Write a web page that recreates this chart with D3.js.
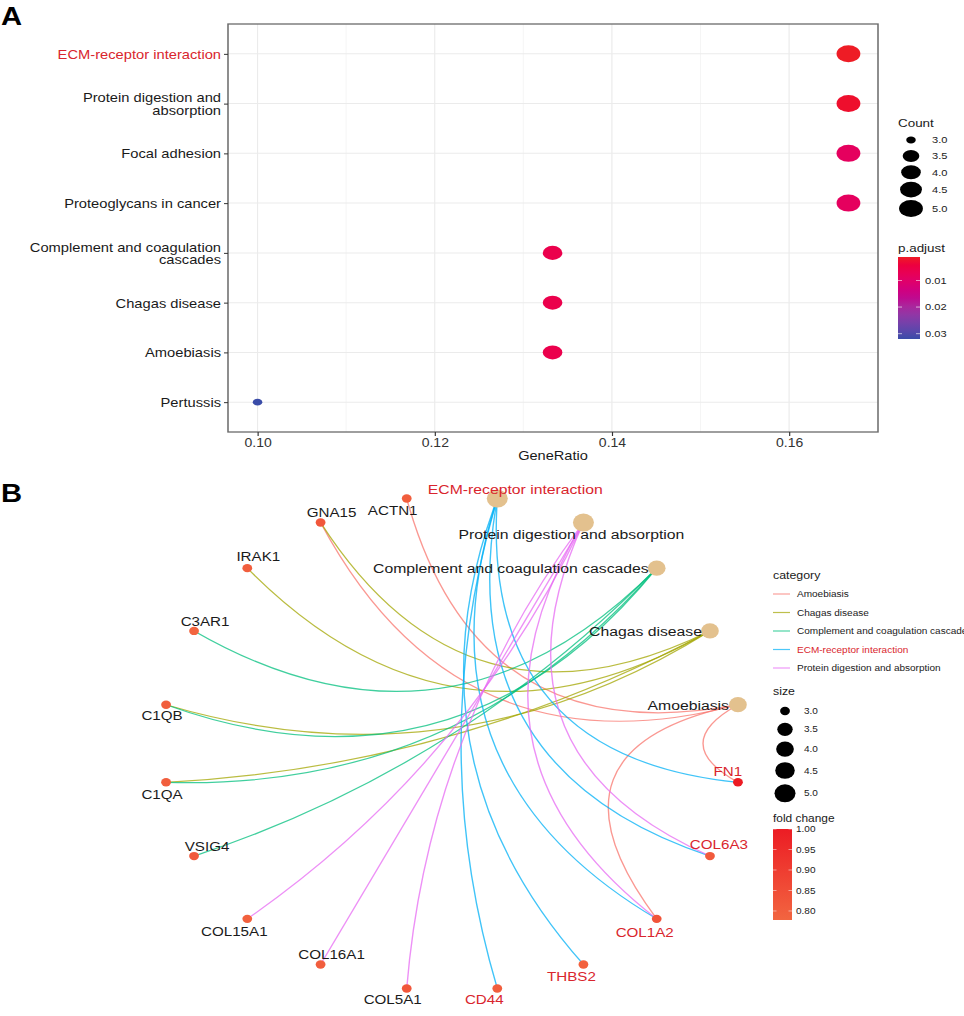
<!DOCTYPE html>
<html>
<head>
<meta charset="utf-8">
<script src="https://cdn.jsdelivr.net/npm/d3@7"></script>
<style>
  body { margin: 0; background: #fff; }
  svg { display: block; font-family: "Liberation Sans", Arial, Helvetica, sans-serif; }
</style>
</head>
<body>
<svg></svg>
<script>
const width = 964;
const height = 1016;
// the whole figure is stretched sideways, so draw in narrow units and scale x
const SX = 1.167;
const X = px => px / SX;

// ---- panel A: enrichment dot plot ----
const pathways = [
    "ECM-receptor interaction",
    "Protein digestion and absorption",
    "Focal adhesion",
    "Proteoglycans in cancer",
    "Complement and coagulation cascades",
    "Chagas disease",
    "Amoebiasis",
    "Pertussis"
];
const geneRatio = [0.1667, 0.1667, 0.1667, 0.1667, 0.1333, 0.1333, 0.1333, 0.1000];
const counts = [5, 5, 5, 5, 4, 4, 4, 3];
const pAdjust = [0.0012, 0.0020, 0.0085, 0.0085, 0.0060, 0.0060, 0.0060, 0.0320];
const ratioTicks = [0.10, 0.12, 0.14, 0.16];
const countKeys = [3.0, 3.5, 4.0, 4.5, 5.0];
const pTicks = [0.01, 0.02, 0.03];

// ---- panel B: gene-concept network ----
const categories = [
    "Amoebiasis",
    "Chagas disease",
    "Complement and coagulation cascades",
    "ECM-receptor interaction",
    "Protein digestion and absorption"
];
const categoryColors = ["#F8766D", "#A3A500", "#00BF7D", "#00B0F6", "#E76BF3"];
const categoryGenes = [
    ["ACTN1", "GNA15", "COL1A2", "FN1"],
    ["GNA15", "IRAK1", "C1QB", "C1QA"],
    ["C3AR1", "C1QB", "C1QA", "VSIG4"],
    ["CD44", "THBS2", "COL1A2", "COL6A3", "FN1"],
    ["COL15A1", "COL16A1", "COL5A1", "COL1A2", "COL6A3"]
];
const genes = ["ACTN1", "GNA15", "IRAK1", "C3AR1", "C1QB", "C1QA", "VSIG4", "COL15A1",
               "COL16A1", "COL5A1", "CD44", "THBS2", "COL1A2", "COL6A3", "FN1"];
const foldChange = [0.80, 0.82, 0.80, 0.778, 0.80, 0.80, 0.81, 0.79,
                    0.80, 0.82, 0.80, 0.79, 0.83, 0.81, 1.00];
// order of the nodes round the ring, clockwise from the top
const ringOrder = [
    "ECM-receptor interaction", "Protein digestion and absorption",
    "Complement and coagulation cascades", "Chagas disease", "Amoebiasis",
    "FN1", "COL6A3", "COL1A2", "THBS2", "CD44", "COL5A1", "COL16A1", "COL15A1",
    "VSIG4", "C1QA", "C1QB", "C3AR1", "IRAK1", "GNA15", "ACTN1"
];
const sizeKeys = [3.0, 3.5, 4.0, 4.5, 5.0];
const fcTicks = [0.80, 0.85, 0.90, 0.95, 1.00];

const highlight = "ECM-receptor interaction";
const red = "#d9252d";
const textCol = "#1a1a1a";

let svg = d3.select("svg")
     .attr("width", width)
     .attr("height", height);

let root = svg.append("g").attr("transform", `scale(${SX},1)`);

function wrapLabel(s, maxLen) {
    let lines = [];
    let cur = "";
    for (let w of s.split(" ")) {
        if (cur && (cur + " " + w).length > maxLen) {
            lines.push(cur);
            cur = w;
        } else {
            cur = cur ? cur + " " + w : w;
        }
    }
    lines.push(cur);
    return lines;
}

function drawDotPlot() {
    const left = 228, right = 878, top = 24, bottom = 432;

    root.append("text")
        .attr("x", X(1)).attr("y", 25)
        .attr("font-size", 25).attr("font-weight", "bold")
        .text("A");

    // ggplot style 5% expansion of the data range
    const ext = d3.extent(geneRatio);
    const pad = (ext[1] - ext[0]) * 0.05;
    const scX = d3.scaleLinear()
        .domain([ext[0] - pad, ext[1] + pad])
        .range([X(left), X(right)]);
    const scY = d3.scalePoint()
        .domain(pathways)
        .range([top, bottom])
        .padding(0.6);

    const sizeR = d3.scaleSqrt().domain([0, 2]).range([3.4, 8.5]);
    const ry = c => sizeR(c - 3);
    const pColor = d3.scaleLinear()
        .domain(d3.extent(pAdjust))
        .range(["#ee1c25", "#3a4ca8"])
        .interpolate(d3.interpolateHcl);

    // grid
    const minor = ratioTicks.slice(0, -1).map((t, i) => (t + ratioTicks[i + 1]) / 2);
    const grid = root.append("g");
    grid.selectAll(".minor").data(minor).enter().append("line")
        .attr("x1", d => scX(d)).attr("x2", d => scX(d))
        .attr("y1", top).attr("y2", bottom)
        .attr("stroke", "#f3f3f3").attr("stroke-width", 0.8);
    grid.selectAll(".major").data(ratioTicks).enter().append("line")
        .attr("x1", d => scX(d)).attr("x2", d => scX(d))
        .attr("y1", top).attr("y2", bottom)
        .attr("stroke", "#ebebeb").attr("stroke-width", 1);
    grid.selectAll(".hline").data(pathways).enter().append("line")
        .attr("x1", X(left)).attr("x2", X(right))
        .attr("y1", d => scY(d)).attr("y2", d => scY(d))
        .attr("stroke", "#ebebeb").attr("stroke-width", 1);

    // dots
    root.append("g").selectAll("ellipse")
        .data(pathways)
        .enter()
        .append("ellipse")
        .attr("cx", (d, i) => scX(geneRatio[i]))
        .attr("cy", d => scY(d))
        .attr("rx", (d, i) => ry(counts[i]) * 1.2)
        .attr("ry", (d, i) => ry(counts[i]))
        .attr("fill", (d, i) => pColor(pAdjust[i]));

    // frame
    root.append("rect")
        .attr("x", X(left)).attr("y", top)
        .attr("width", X(right) - X(left)).attr("height", bottom - top)
        .attr("fill", "none").attr("stroke", "#6b6b6b").attr("stroke-width", 1.3);

    // axes
    let axisY = d3.axisLeft(scY).tickSize(X(4)).tickPadding(X(3));
    let gY = root.append("g")
        .attr("transform", `translate(${X(left)},0)`)
        .call(axisY);
    gY.select(".domain").remove();
    gY.selectAll(".tick line").attr("stroke", "#333");
    gY.selectAll(".tick text")
        .attr("font-size", 12.6)
        .attr("font-family", null)
        .attr("dy", null)
        .attr("fill", d => d === highlight ? red : textCol)
        .each(function (d) {
            const lines = wrapLabel(d, 26);
            const t = d3.select(this).text(null);
            const x = t.attr("x");
            lines.forEach((line, i) => {
                t.append("tspan")
                    .attr("x", x)
                    .attr("dy", i === 0 ? (4.4 - (lines.length - 1) * 6.1) : 12.2)
                    .text(line);
            });
        });

    let axisX = d3.axisBottom(scX)
        .tickValues(ratioTicks)
        .tickFormat(d3.format(".2f"))
        .tickSize(4)
        .tickPadding(2);
    let gX = root.append("g")
        .attr("transform", `translate(0,${bottom})`)
        .call(axisX);
    gX.select(".domain").remove();
    gX.selectAll(".tick line").attr("stroke", "#333");
    gX.selectAll(".tick text")
        .attr("font-size", 12)
        .attr("font-family", null)
        .attr("fill", "#333");

    root.append("text")
        .attr("x", (X(left) + X(right)) / 2).attr("y", 460)
        .attr("text-anchor", "middle")
        .attr("font-size", 12.5).attr("fill", textCol)
        .text("GeneRatio");

    // legend: Count
    const lx = 898;
    root.append("text")
        .attr("x", X(lx)).attr("y", 127)
        .attr("font-size", 11.5).attr("fill", textCol)
        .text("Count");
    let yk = 140;
    let keyY = [];
    countKeys.forEach((c, i) => {
        if (i > 0) {
            const hPrev = Math.max(16, 2 * ry(countKeys[i - 1]) + 2.5);
            const hCur = Math.max(16, 2 * ry(c) + 2.5);
            yk += (hPrev + hCur) / 2;
        }
        keyY.push(yk);
    });
    let cg = root.append("g");
    cg.selectAll("ellipse").data(countKeys).enter().append("ellipse")
        .attr("cx", X(911))
        .attr("cy", (d, i) => keyY[i])
        .attr("rx", d => ry(d) * 1.2)
        .attr("ry", d => ry(d))
        .attr("fill", "#000");
    cg.selectAll("text").data(countKeys).enter().append("text")
        .attr("x", X(932))
        .attr("y", (d, i) => keyY[i] + 3.4)
        .attr("font-size", 9.5).attr("fill", textCol)
        .text(d => d.toFixed(1));

    // legend: p.adjust colour bar
    root.append("text")
        .attr("x", X(lx)).attr("y", 252)
        .attr("font-size", 11.5).attr("fill", textCol)
        .text("p.adjust");
    const barTop = 257, barBot = 339;
    const pExt = d3.extent(pAdjust);
    const barY = d3.scaleLinear().domain(pExt).range([barTop, barBot]);
    let grad = svg.append("defs").append("linearGradient")
        .attr("id", "pgrad").attr("x1", 0).attr("y1", 0).attr("x2", 0).attr("y2", 1);
    d3.range(0, 1.0001, 0.1).forEach(t => {
        grad.append("stop")
            .attr("offset", t)
            .attr("stop-color", pColor(pExt[0] + t * (pExt[1] - pExt[0])));
    });
    root.append("rect")
        .attr("x", X(lx)).attr("y", barTop)
        .attr("width", X(920) - X(lx)).attr("height", barBot - barTop)
        .attr("fill", "url(#pgrad)");
    let pt = root.append("g");
    pt.selectAll(".l").data(pTicks).enter().append("line")
        .attr("x1", X(lx)).attr("x2", X(lx + 4))
        .attr("y1", d => barY(d)).attr("y2", d => barY(d))
        .attr("stroke", "#fff").attr("stroke-width", 0.8).attr("opacity", 0.7);
    pt.selectAll(".r").data(pTicks).enter().append("line")
        .attr("x1", X(916)).attr("x2", X(920))
        .attr("y1", d => barY(d)).attr("y2", d => barY(d))
        .attr("stroke", "#fff").attr("stroke-width", 0.8).attr("opacity", 0.7);
    pt.selectAll("text").data(pTicks).enter().append("text")
        .attr("x", X(925))
        .attr("y", d => barY(d) + 3.4)
        .attr("font-size", 9.5).attr("fill", textCol)
        .text(d => d.toFixed(2));
}

function drawNetwork() {
    const cx = 452, cy = 743.5, rx = 289.5, ry = 248;

    root.append("text")
        .attr("x", X(1)).attr("y", 502)
        .attr("font-size", 25).attr("font-weight", "bold")
        .text("B");

    const angle = d3.scaleLinear().domain([0, ringOrder.length]).range([0, 2 * Math.PI]);
    const ringX = d3.scaleLinear().domain([-1, 1]).range([cx - rx, cx + rx]);
    const ringY = d3.scaleLinear().domain([-1, 1]).range([cy - ry, cy + ry]);

    // pixel position of every node
    let pos = {};
    ringOrder.forEach((name, i) => {
        const a = angle(i + 0.5);
        pos[name] = [ringX(Math.sin(a)), ringY(-Math.cos(a))];
    });

    const sizeR = d3.scaleSqrt().domain([0, 2]).range([4.2, 9]);
    const nodeR = s => sizeR(s - 3);
    const fcExt = d3.extent(foldChange);
    const fcColor = d3.scaleLinear().domain(fcExt).range(["#f26540", "#ec1c24"]);

    // edges bend toward the ring centre
    function arcPath(p, q) {
        const mx = (p[0] + q[0]) / 2, my = (p[1] + q[1]) / 2;
        const dx = q[0] - p[0], dy = q[1] - p[1];
        const len = Math.hypot(dx, dy);
        let nx = -dy / len, ny = dx / len;
        if (nx * (cx - mx) + ny * (cy - my) < 0) { nx = -nx; ny = -ny; }
        const sag = Math.min(0.45 * len, 90, 0.8 * Math.hypot(cx - mx, cy - my));
        const path = d3.path();
        path.moveTo(X(p[0]), p[1]);
        path.quadraticCurveTo(X(mx + 2 * sag * nx), my + 2 * sag * ny, X(q[0]), q[1]);
        return path.toString();
    }

    let edges = [];
    categories.forEach((c, i) => {
        categoryGenes[i].forEach(g => edges.push({ from: c, to: g, color: categoryColors[i] }));
    });

    root.append("g").selectAll("path")
        .data(edges)
        .enter()
        .append("path")
        .attr("d", d => arcPath(pos[d.from], pos[d.to]))
        .attr("fill", "none")
        .attr("stroke", d => d.color)
        .attr("stroke-width", 1.2)
        .attr("stroke-opacity", 0.75);

    // nodes
    root.append("g").selectAll("circle")
        .data(categories)
        .enter()
        .append("circle")
        .attr("cx", d => X(pos[d][0]))
        .attr("cy", d => pos[d][1])
        .attr("r", (d, i) => nodeR(categoryGenes[i].length))
        .attr("fill", "#e3c18e");

    root.append("g").selectAll("circle")
        .data(genes)
        .enter()
        .append("circle")
        .attr("cx", d => X(pos[d][0]))
        .attr("cy", d => pos[d][1])
        .attr("r", 4.2)
        .attr("fill", (d, i) => fcColor(foldChange[i]));

    // label placement next to each node (dx, dy in pixels, anchor)
    const labelNudge = {
        "ECM-receptor interaction": [18, -9, "middle"],
        "Protein digestion and absorption": [-12, 12, "middle"],
        "Complement and coagulation cascades": [-8, 0, "end"],
        "Chagas disease": [-8, 0, "end"],
        "Amoebiasis": [-9, 0, "end"],
        "FN1": [-10, -11, "middle"],
        "COL6A3": [9, -12, "middle"],
        "COL1A2": [-12, 13, "middle"],
        "THBS2": [-12, 12, "middle"],
        "CD44": [-13, 11, "middle"],
        "COL5A1": [-14, 11, "middle"],
        "COL16A1": [11, -10, "middle"],
        "COL15A1": [-13, 12, "middle"],
        "VSIG4": [13, -10, "middle"],
        "C1QA": [-4, 12, "middle"],
        "C1QB": [-4, 11, "middle"],
        "C3AR1": [11, -10, "middle"],
        "IRAK1": [11, -12, "middle"],
        "GNA15": [11, -10, "middle"],
        "ACTN1": [-14, 12, "middle"]
    };
    const ecmGenes = categoryGenes[categories.indexOf(highlight)];
    root.append("g").selectAll("text")
        .data(ringOrder)
        .enter()
        .append("text")
        .attr("x", d => X(pos[d][0] + labelNudge[d][0]))
        .attr("y", d => pos[d][1] + labelNudge[d][1])
        .attr("dy", "0.36em")
        .attr("text-anchor", d => labelNudge[d][2])
        .attr("font-size", d => categories.includes(d) ? 13.5 : 13)
        .attr("fill", d => (d === highlight || ecmGenes.includes(d)) ? red : textCol)
        .text(d => d);

    // legend: category
    const lx = 773;
    root.append("text")
        .attr("x", X(lx)).attr("y", 579)
        .attr("font-size", 10.6).attr("fill", textCol)
        .text("category");
    const entryY = d3.scaleLinear().domain([0, 4]).range([594, 668]);
    let cl = root.append("g");
    cl.selectAll("line").data(categories).enter().append("line")
        .attr("x1", X(lx)).attr("x2", X(790))
        .attr("y1", (d, i) => entryY(i)).attr("y2", (d, i) => entryY(i))
        .attr("stroke", (d, i) => categoryColors[i])
        .attr("stroke-opacity", 0.7)
        .attr("stroke-width", 1.2);
    cl.selectAll("text").data(categories).enter().append("text")
        .attr("x", X(797))
        .attr("y", (d, i) => entryY(i) + 3.1)
        .attr("font-size", 8.6)
        .attr("fill", d => d === highlight ? red : textCol)
        .text(d => d);

    // legend: size
    root.append("text")
        .attr("x", X(lx)).attr("y", 695)
        .attr("font-size", 10.6).attr("fill", textCol)
        .text("size");
    let yk = 711;
    let keyY = [];
    sizeKeys.forEach((s, i) => {
        if (i > 0) {
            const hPrev = Math.max(18, 2 * nodeR(sizeKeys[i - 1]) + 5.5);
            const hCur = Math.max(18, 2 * nodeR(s) + 5.5);
            yk += (hPrev + hCur) / 2;
        }
        keyY.push(yk);
    });
    let sl = root.append("g");
    sl.selectAll("circle").data(sizeKeys).enter().append("circle")
        .attr("cx", X(785))
        .attr("cy", (d, i) => keyY[i])
        .attr("r", d => nodeR(d))
        .attr("fill", "#000");
    sl.selectAll("text").data(sizeKeys).enter().append("text")
        .attr("x", X(804))
        .attr("y", (d, i) => keyY[i] + 3.1)
        .attr("font-size", 8.6).attr("fill", textCol)
        .text(d => d.toFixed(1));

    // legend: fold change colour bar
    root.append("text")
        .attr("x", X(lx)).attr("y", 822)
        .attr("font-size", 10.2).attr("fill", textCol)
        .text("fold change");
    const barTop = 829, barBot = 920;
    const barY = d3.scaleLinear().domain([fcExt[1], fcExt[0]]).range([barTop, barBot]);
    let grad = svg.append("defs").append("linearGradient")
        .attr("id", "fcgrad").attr("x1", 0).attr("y1", 0).attr("x2", 0).attr("y2", 1);
    grad.append("stop").attr("offset", 0).attr("stop-color", fcColor(fcExt[1]));
    grad.append("stop").attr("offset", 1).attr("stop-color", fcColor(fcExt[0]));
    root.append("rect")
        .attr("x", X(lx)).attr("y", barTop)
        .attr("width", X(792) - X(lx)).attr("height", barBot - barTop)
        .attr("fill", "url(#fcgrad)");
    let ft = root.append("g");
    ft.selectAll(".l").data(fcTicks).enter().append("line")
        .attr("x1", X(lx)).attr("x2", X(lx + 3.5))
        .attr("y1", d => barY(d)).attr("y2", d => barY(d))
        .attr("stroke", "#fff").attr("stroke-width", 0.8).attr("opacity", 0.6);
    ft.selectAll(".r").data(fcTicks).enter().append("line")
        .attr("x1", X(788.5)).attr("x2", X(792))
        .attr("y1", d => barY(d)).attr("y2", d => barY(d))
        .attr("stroke", "#fff").attr("stroke-width", 0.8).attr("opacity", 0.6);
    ft.selectAll("text").data(fcTicks).enter().append("text")
        .attr("x", X(796))
        .attr("y", d => barY(d) + 3.1)
        .attr("font-size", 8.6).attr("fill", textCol)
        .text(d => d.toFixed(2));
}

document.addEventListener("DOMContentLoaded", function () {
    drawDotPlot();
    drawNetwork();
});
</script>
</body>
</html>
